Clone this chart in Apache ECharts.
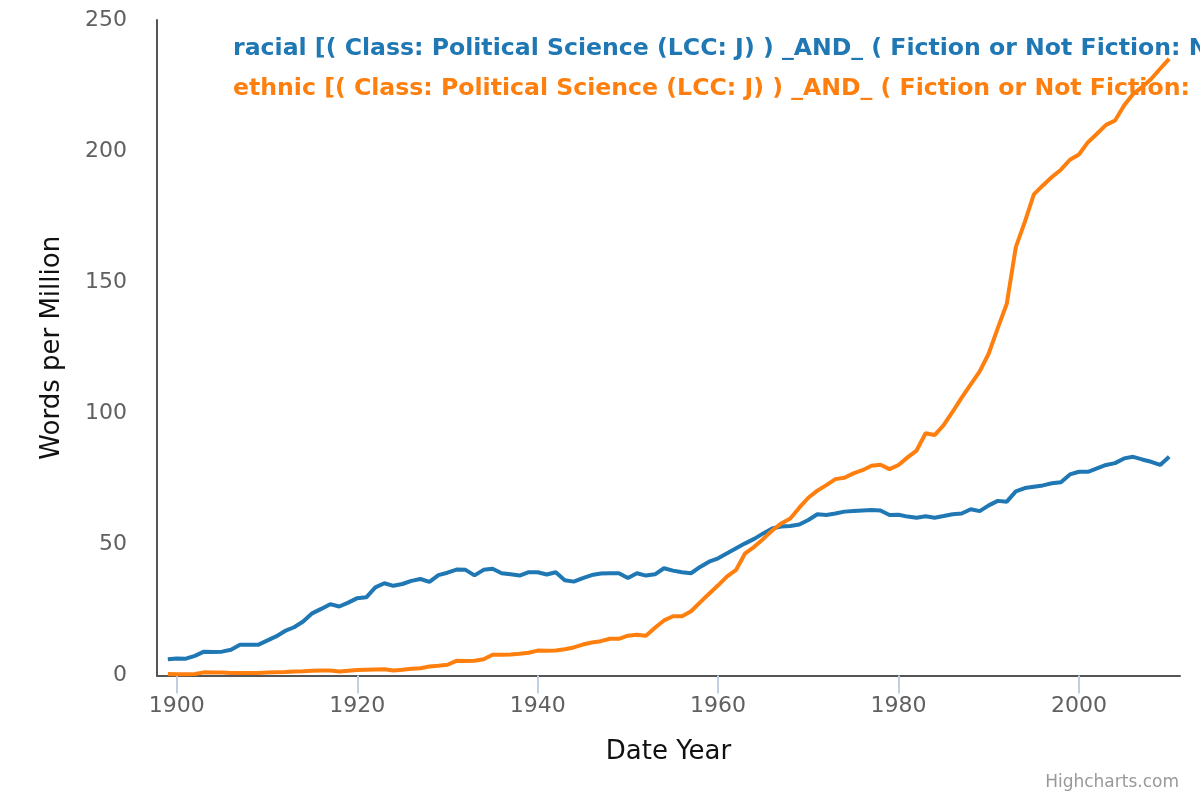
<!DOCTYPE html>
<html>
<head>
<meta charset="utf-8">
<script src="https://cdn.jsdelivr.net/npm/echarts@6/dist/echarts.min.js"></script>
<style>
html,body{margin:0;padding:0;background:#fff;}
#chart{width:1200px;height:800px;}
</style>
</head>
<body>
<div id="chart"></div>
<script>
const years = [1899,1900,1901,1902,1903,1904,1905,1906,1907,1908,1909,1910,1911,1912,1913,1914,1915,1916,1917,1918,1919,
1920,1921,1922,1923,1924,1925,1926,1927,1928,1929,1930,1931,1932,1933,1934,1935,1936,1937,1938,1939,
1940,1941,1942,1943,1944,1945,1946,1947,1948,1949,1950,1951,1952,1953,1954,1955,1956,1957,1958,1959,
1960,1961,1962,1963,1964,1965,1966,1967,1968,1969,1970,1971,1972,1973,1974,1975,1976,1977,1978,1979,
1980,1981,1982,1983,1984,1985,1986,1987,1988,1989,1990,1991,1992,1993,1994,1995,1996,1997,1998,1999,
2000,2001,2002,2003,2004,2005,2006,2007,2008,2009,2010];

const racial = [6.2,6.5,6.4,7.5,9.1,9.0,9.1,9.8,11.7,11.7,11.7,13.3,14.9,17.0,18.4,20.6,23.7,25.4,27.2,26.3,27.8,
29.5,29.8,33.6,35.2,34.2,34.9,36.1,36.8,35.7,38.3,39.2,40.4,40.3,38.2,40.3,40.7,39.0,38.6,38.1,39.4,
39.4,38.5,39.4,36.3,35.8,37.1,38.3,38.9,39.0,39.0,37.2,39.0,38.1,38.6,40.9,40.0,39.4,39.0,41.4,43.4,
44.7,46.6,48.5,50.4,52.1,54.2,56.1,56.8,57.0,57.6,59.3,61.5,61.2,61.8,62.5,62.7,62.9,63.1,62.9,61.2,
61.3,60.6,60.2,60.7,60.2,60.8,61.5,61.8,63.4,62.7,64.9,66.6,66.3,70.2,71.5,72.0,72.5,73.3,73.7,76.7,
77.7,77.7,79.0,80.3,81.0,82.8,83.4,82.4,81.5,80.3,83.4];

const ethnic = [0.6,0.5,0.5,0.6,1.2,1.1,1.1,1.0,1.0,1.0,1.0,1.1,1.2,1.3,1.5,1.6,1.8,1.9,1.9,1.5,1.8,
2.1,2.2,2.3,2.4,1.9,2.2,2.6,2.8,3.4,3.7,4.1,5.6,5.5,5.6,6.2,7.9,7.9,8.0,8.3,8.7,
9.5,9.4,9.5,10.0,10.7,11.8,12.6,13.1,14.0,14.0,15.2,15.5,15.2,18.2,21.0,22.6,22.6,24.5,27.9,31.2,
34.4,37.8,40.3,46.6,49.1,52.1,55.3,58.0,59.9,64.0,67.8,70.5,72.6,74.9,75.4,77.1,78.3,80.0,80.4,78.7,
80.3,83.2,85.8,92.4,91.7,95.5,100.6,106.0,111.0,116.0,122.8,132.5,141.8,163.4,173.0,183.5,186.9,190.1,192.9,196.7,
198.7,203.4,206.6,210.0,211.7,217.4,221.8,224.4,227.5,231.4,235.2];

const xTicks = [1900,1920,1940,1960,1980,2000];
const seriesNames = [
  'racial [( Class: Political Science (LCC: J) ) _AND_ ( Fiction or Not Fiction: Not Fiction ) ]',
  'ethnic [( Class: Political Science (LCC: J) ) _AND_ ( Fiction or Not Fiction: Not Fiction ) ]'
];
const colors = ['#1f77b4', '#ff7f0e'];

const pair = (vals) => years.map((y, i) => [y, vals[i]]);

const chart = echarts.init(document.getElementById('chart'));
chart.setOption({
  animation: false,
  backgroundColor: '#ffffff',
  textStyle: { fontFamily: 'DejaVu Sans' },
  grid: { left: 157, right: 20, top: 20, bottom: 124.5 },
  legend: {
    orient: 'vertical',
    left: 223,
    top: 30,
    icon: 'none',
    itemWidth: 0,
    itemHeight: 10,
    itemGap: 12,
    selectedMode: false,
    textStyle: { fontSize: 23.6, fontWeight: 'bold', fontFamily: 'DejaVu Sans', lineHeight: 28 },
    data: [
      { name: seriesNames[0], textStyle: { color: colors[0] } },
      { name: seriesNames[1], textStyle: { color: colors[1] } }
    ]
  },
  xAxis: {
    type: 'value',
    min: 1897.8,
    max: 2011.2,
    name: 'Date Year',
    nameLocation: 'middle',
    nameGap: 64,
    nameTextStyle: { fontSize: 26, color: '#111' },
    splitLine: { show: false },
    axisLine: { show: true, lineStyle: { color: '#555', width: 2 } },
    axisTick: { show: true, customValues: xTicks, length: 18, lineStyle: { color: '#C0D0E0', width: 2 } },
    axisLabel: { customValues: xTicks, fontSize: 22, color: '#606060', margin: 20,
      formatter: (v) => String(Math.round(v)) }
  },
  yAxis: {
    type: 'value',
    min: 0,
    max: 250,
    interval: 50,
    name: 'Words per Million',
    nameLocation: 'middle',
    nameRotate: 90,
    nameGap: 92,
    nameTextStyle: { fontSize: 26, color: '#111' },
    splitLine: { show: false },
    axisLine: { show: true, lineStyle: { color: '#555', width: 2 } },
    axisTick: { show: false },
    axisLabel: { fontSize: 22, color: '#606060', margin: 30 }
  },
  graphic: [{
    type: 'text',
    right: 21,
    top: 774,
    style: { text: 'Highcharts.com', fontSize: 17, fill: '#999', fontFamily: 'DejaVu Sans' }
  }],
  series: [
    { name: seriesNames[0], type: 'line', data: pair(racial), showSymbol: false, symbol: 'none',
      lineStyle: { color: colors[0], width: 4 }, itemStyle: { color: colors[0] } },
    { name: seriesNames[1], type: 'line', data: pair(ethnic), showSymbol: false, symbol: 'none',
      lineStyle: { color: colors[1], width: 4 }, itemStyle: { color: colors[1] } }
  ]
});
</script>
</body>
</html>
